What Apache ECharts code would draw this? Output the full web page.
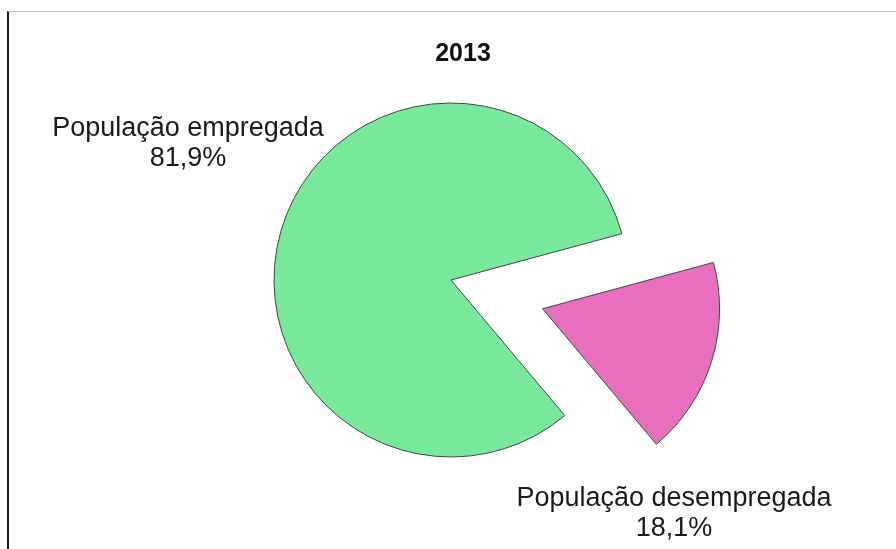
<!DOCTYPE html>
<html>
<head>
<meta charset="utf-8">
<script src="https://cdn.jsdelivr.net/npm/echarts@6/dist/echarts.min.js"></script>
<style>
  html, body { margin: 0; padding: 0; background: #fff; }
  #main { position: absolute; left: 0; top: 0; width: 896px; height: 549px; }
  .frame { position: absolute; left: 7px; top: 11px; width: 889px; height: 538px;
           border-top: 1px solid #c4c4c4; border-left: 2px solid #1a1a1a; box-sizing: border-box; pointer-events: none; }
</style>
</head>
<body>
<div id="main"></div>
<div class="frame"></div>
<script>
// dados 2013
const title = '2013';
const categories = ['População empregada', 'População desempregada'];
const values = [81.9, 18.1];
const colors = ['#78E99B', '#E86EBE'];
// onde ficam os rótulos (px)
const labelPos = [[188, 144], [674, 514]];

const chart = echarts.init(document.getElementById('main'));

const fmt = v => v.toFixed(1).replace('.', ',') + '%';

let option = {
  animation: false,
  title: {
    text: title,
    left: 458,
    top: 37,
    textAlign: 'center',
    textStyle: {fontFamily: 'Liberation Sans', fontSize: 25, fontWeight: 'bold', color: '#111'}
  },
  // rótulos soltos, fora da fatia
  graphic: categories.map((c, i) => ({
    type: 'text',
    x: labelPos[i][0],
    y: labelPos[i][1],
    style: {
      text: c + '\n' + fmt(values[i]),
      fontFamily: 'Liberation Sans',
      fontSize: 27,
      lineHeight: 30,
      fill: '#1a1a1a',
      align: 'center',
      verticalAlign: 'middle'
    }
  })),
  series: [
    {
      type: 'pie',
      center: [451, 280],
      radius: 177,
      startAngle: 310,
      clockwise: true,
      selectedMode: 'single',
      selectedOffset: 96,
      emphasis: {disabled: true},
      itemStyle: {borderColor: '#3d4a40', borderWidth: 1},
      label: {show: false},
      labelLine: {show: false},
      data: categories.map((c, i) => ({
        name: c,
        value: values[i],
        selected: i === 1,
        itemStyle: {color: colors[i]}
      }))
    }
  ]
};
chart.setOption(option);
</script>
</body>
</html>
